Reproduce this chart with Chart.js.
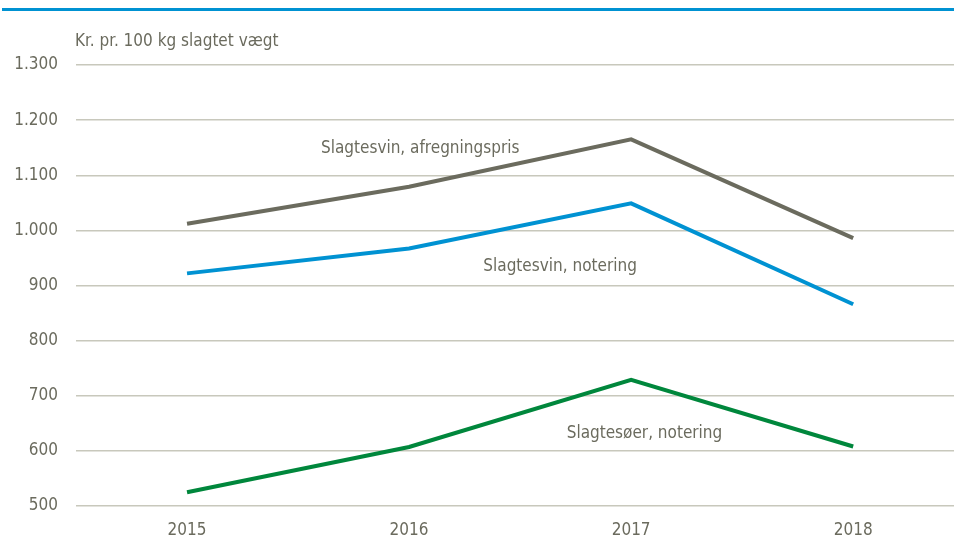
<!DOCTYPE html>
<html>
<head>
<meta charset="utf-8">
<script src="https://cdn.jsdelivr.net/npm/chart.js@4"></script>
<style>
    html, body { margin: 0; padding: 0; background: #ffffff; }
    #wrap { position: relative; width: 954px; height: 542px; }
    #topRule { position: absolute; left: 2px; right: 0; top: 8px; height: 3px; background: #0092d2; }
</style>
</head>
<body>
<div id="wrap">
    <div id="topRule"></div>
    <canvas id="priceChart" width="954" height="542"></canvas>
</div>
<script>
const years = [2015, 2016, 2017, 2018];
const afregningspris = [1012, 1079, 1165, 986];
const sviNotering = [922, 967, 1049, 866];
const soeerNotering = [525, 607, 729, 608];

const yAxisTitle = "Kr. pr. 100 kg slagtet vægt";
const seriesLabels = ["Slagtesvin, afregningspris", "Slagtesvin, notering", "Slagtesøer, notering"];
// where the inline labels sit, in data units (year, kr)
const labelX = [2016.05, 2016.68, 2017.06];
const labelY = [1149, 935, 632];

const textColor = "#6b6b5e";
const fontFamily = "'Liberation Sans Narrow', 'Arial Narrow', 'DejaVu Sans Condensed', sans-serif";

function danishThousands(v) {
    if (v >= 1000) {
        return Math.floor(v / 1000) + "." + String(v % 1000).padStart(3, "0");
    }
    return String(v);
}

const inlineLabels = {
    id: "inlineLabels",
    afterDatasetsDraw(chart) {
        const { ctx, scales } = chart;
        ctx.save();
        ctx.fillStyle = textColor;
        ctx.font = "17px " + fontFamily;
        ctx.textAlign = "center";
        ctx.textBaseline = "middle";
        seriesLabels.forEach((txt, i) => {
            ctx.fillText(txt, scales.x.getPixelForValue(labelX[i]), scales.y.getPixelForValue(labelY[i]));
        });
        // axis title above the top gridline
        ctx.textAlign = "left";
        ctx.fillText(yAxisTitle, 75, 42);
        ctx.restore();
    }
};

const toPoints = arr => arr.map((v, i) => ({ x: years[i], y: v }));

new Chart(document.getElementById("priceChart"), {
    type: "line",
    data: {
        datasets: [
            { label: seriesLabels[0], data: toPoints(afregningspris), borderColor: "#6b6b5e" },
            { label: seriesLabels[1], data: toPoints(sviNotering), borderColor: "#0092d2" },
            { label: seriesLabels[2], data: toPoints(soeerNotering), borderColor: "#00873c" }
        ]
    },
    options: {
        responsive: false,
        animation: false,
        layout: { padding: { top: 65, right: 0, left: 0, bottom: 0 } },
        elements: {
            line: { borderWidth: 4, tension: 0, borderCapStyle: "butt" },
            point: { radius: 0 }
        },
        plugins: {
            legend: { display: false },
            tooltip: { enabled: false }
        },
        scales: {
            x: {
                type: "linear",
                min: 2014.5,
                max: 2018.454,
                afterBuildTicks(scale) {
                    scale.ticks = years.map(v => ({ value: v }));
                },
                afterFit(scale) { scale.height = 36; },
                grid: { display: false, drawTicks: false },
                border: { display: false },
                ticks: {
                    color: textColor,
                    font: { family: fontFamily, size: 17 },
                    padding: 14,
                    maxRotation: 0,
                    autoSkip: false,
                    callback: v => String(v)
                }
            },
            y: {
                min: 500,
                max: 1300,
                afterFit(scale) { scale.width = 76; },
                grid: { color: "#c8c8bc", lineWidth: 1.5, drawTicks: false },
                border: { display: false },
                ticks: {
                    stepSize: 100,
                    color: textColor,
                    font: { family: fontFamily, size: 17 },
                    padding: 18,
                    callback: v => danishThousands(v)
                }
            }
        }
    },
    plugins: [inlineLabels]
});
</script>
</body>
</html>
